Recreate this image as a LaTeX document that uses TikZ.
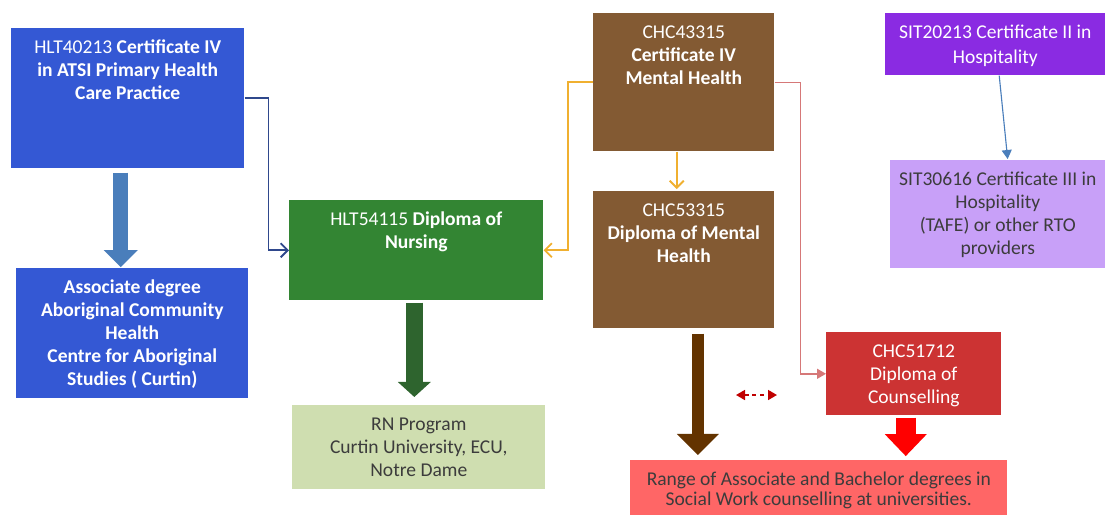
\documentclass[tikz,border=0pt]{standalone}
\usepackage{fontspec}
\setmainfont{Carlito}
\usetikzlibrary{arrows.meta,calc}

\newdimen\pxu \pxu=0.025cm
\definecolor{certblue}{RGB}{52,88,212}
\definecolor{arrblue}{RGB}{74,126,187}
\definecolor{navyline}{RGB}{47,72,140}
\definecolor{nursegreen}{RGB}{51,133,51}
\definecolor{arrgreen}{RGB}{46,100,46}
\definecolor{rngreen}{RGB}{207,222,176}
\definecolor{mhbrown}{RGB}{131,90,51}
\definecolor{arrbrown}{RGB}{99,51,0}
\definecolor{mhorange}{RGB}{240,176,48}
\definecolor{pinkline}{RGB}{214,120,120}
\definecolor{counsred}{RGB}{204,51,51}
\definecolor{arrred}{RGB}{255,0,0}
\definecolor{rangepink}{RGB}{255,102,102}
\definecolor{dashred}{RGB}{192,0,0}
\definecolor{hosppurple}{RGB}{138,43,226}
\definecolor{hosplav}{RGB}{200,160,248}
\definecolor{darktext}{RGB}{60,60,60}

% text block of a box: width, height, lines (top aligned)
\newcommand\boxtxt[3]{\parbox[c][#2\pxu][t]{#1\pxu}{\centering\vspace*{9\pxu}\strut #3\par}}

\begin{document}
\begin{tikzpicture}[
  x=0.025cm, y=-0.025cm,
  every node/.style={font=\fontsize{13.9pt}{16.3pt}\selectfont},
  box/.style={rectangle, inner sep=0pt, anchor=north west, fill=#1},
  fat/.style args={#1/#2/#3/#4}{draw=#1, line width=#2,
    -{Triangle[length=#4, width=#3, line width=0pt]}},
  link/.style={draw=#1, line width=1.3pt, -{Straight Barb[length=5pt, width=10pt]}},
  flink/.style={draw=#1, line width=1.1pt, -{Triangle[length=6.4pt, width=7.1pt]}}
]
  \useasboundingbox (0,0) rectangle (1107,515);

  % Aboriginal health pathway
  \node[box=certblue, text=white] (cert4) at (11,28) {\boxtxt{233}{140}{HLT40213 \textbf{Certificate IV}\\ \textbf{in ATSI Primary Health}\\ \textbf{Care Practice}}};
  \node[box=certblue, text=white] (assoc) at (16,268) {\boxtxt{232}{130}{\textbf{Associate degree}\\ \textbf{Aboriginal Community}\\ \textbf{Health}\\ \textbf{Centre for Aboriginal}\\ \textbf{Studies ( Curtin)}}};

  % Nursing pathway
  \node[box=nursegreen, text=white] (nurse) at (289,200) {\boxtxt{254}{100}{HLT54115 \textbf{Diploma of}\\ \textbf{Nursing}}};
  \node[box=rngreen, text=darktext] (rn) at (292,405) {\boxtxt{253}{84}{RN Program\\ Curtin University, ECU,\\ Notre Dame}};

  % Mental health pathway
  \node[box=mhbrown, text=white] (mh4) at (593,13) {\boxtxt{181}{138}{CHC43315\\ \textbf{Certificate IV}\\ \textbf{Mental Health}}};
  \node[box=mhbrown, text=white] (mh5) at (593,191) {\boxtxt{181}{137}{CHC53315\\ \textbf{Diploma of Mental}\\ \textbf{Health}}};
  \node[box=counsred, text=white] (couns) at (826,332) {\boxtxt{175}{83}{CHC51712\\ Diploma of\\ Counselling}};
  \node[box=rangepink, text=darktext] (range) at (630,460) {\boxtxt{377}{55}{\vspace*{-3\pxu}Range of Associate and Bachelor degrees in\\ Social Work counselling at universities.}};

  % Hospitality pathway
  \node[box=hosppurple, text=white] (hosp2) at (885,13) {\boxtxt{220}{62}{\vspace*{2\pxu}SIT20213 Certificate II in\\ Hospitality}};
  \node[box=hosplav, text=darktext] (hosp3) at (890,160) {\boxtxt{215}{108}{SIT30616 Certificate III in\\ Hospitality\\ (TAFE) or other RTO\\ providers}};

  % Block arrows
  \draw[fat=arrblue/10.7pt/24.2pt/12.1pt, shorten <=2.8pt, shorten >=0.7pt]
    ([xshift=-5pt]cert4.south) -- ([xshift=-5pt]cert4.south |- assoc.north);
  \draw[fat=arrgreen/12.1pt/23.5pt/10.7pt, shorten <=1.4pt, shorten >=5.7pt]
    ([xshift=-1.4pt]nurse.south) -- ([xshift=-1.4pt]nurse.south |- rn.north);
  \draw[fat=arrbrown/8.5pt/29.9pt/14.9pt, shorten <=3.6pt, shorten >=3.6pt]
    ([xshift=10pt]mh5.south) -- ([xshift=10pt]mh5.south |- range.north);
  \draw[fat=arrred/14.2pt/29.9pt/15.6pt, shorten <=1.4pt, shorten >=2.8pt]
    ([xshift=-5.7pt]couns.south) -- ([xshift=-5.7pt]couns.south |- range.north);

  % Connectors
  \draw[link=navyline] (cert4.east) -- ++(24,0) |- (nurse.west);
  \draw[link=mhorange] (mh4.west) -- ++(-25,0) |- (nurse.east);
  \draw[link=mhorange, shorten >=1.4pt] ([xshift=-5pt]mh4.south) -- ([xshift=-5pt]mh5.north);
  \draw[flink=pinkline] (mh4.east) -- ++(26,0) |- (couns.west);
  \draw[flink=arrblue, line width=0.8pt, shorten >=0.7pt] ([xshift=2.8pt]hosp2.south) -- ([xshift=7.1pt]hosp3.north);

  % Dashed two-way link
  \coordinate (dashl) at (736,395);
  \coordinate (dashr) at (777,395);
  \draw[dashred, line width=1.2pt, dash pattern=on 2.8pt off 2.8pt,
    {Triangle[length=6.4pt, width=7.1pt]}-{Triangle[length=6.4pt, width=7.1pt]}] (dashl) -- (dashr);
\end{tikzpicture}
\end{document}
